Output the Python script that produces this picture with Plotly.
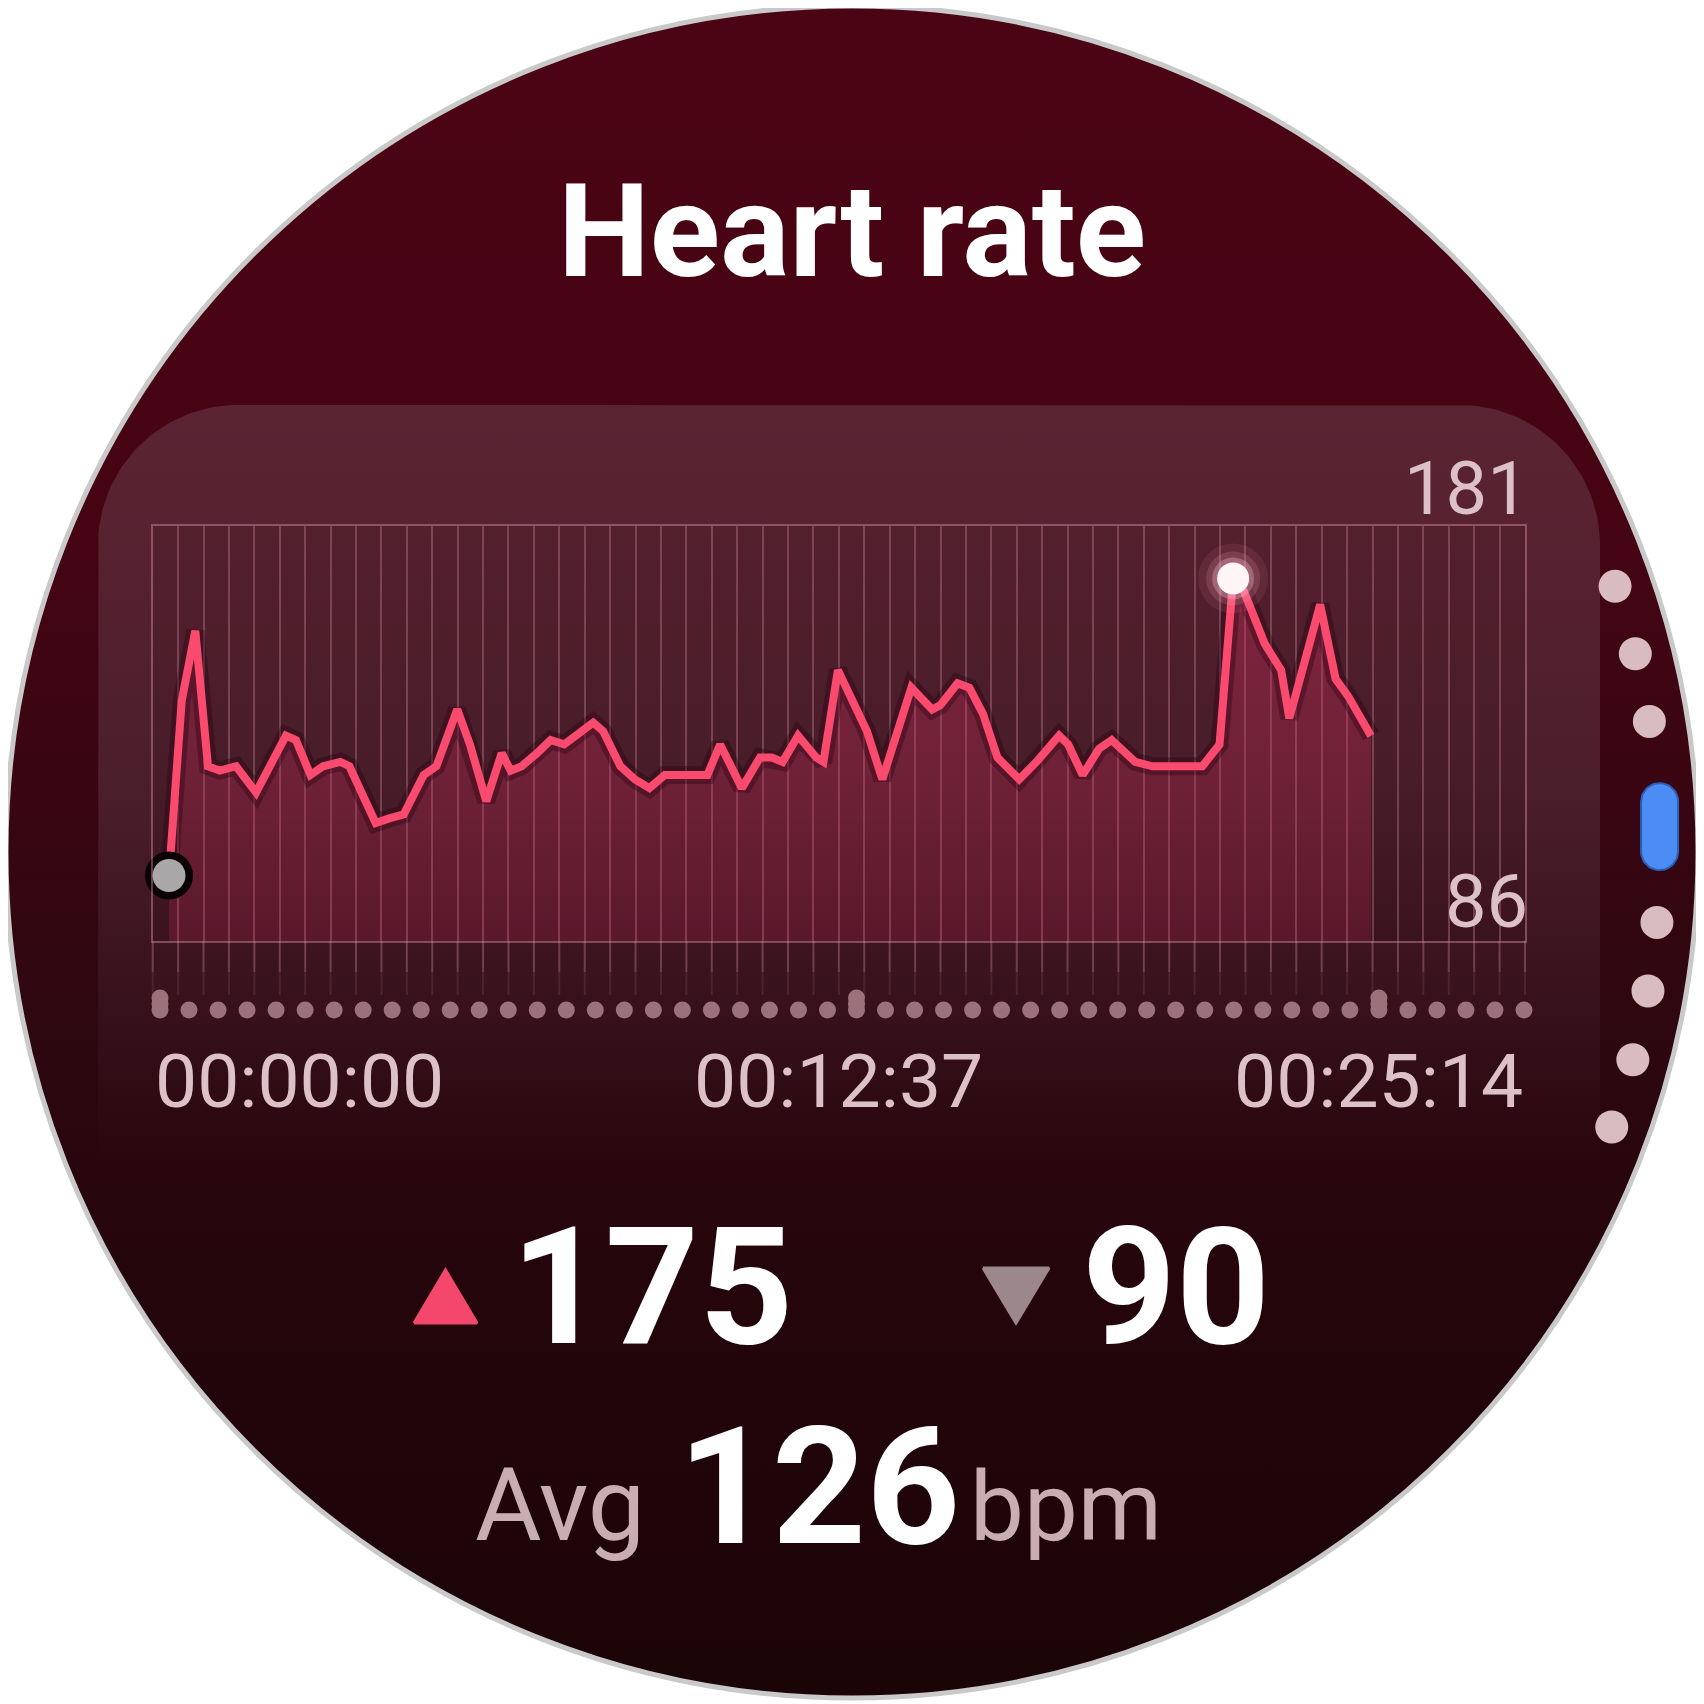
import numpy as np
import plotly.graph_objects as go

# ---------------- data ----------------
time_s = [18, 32, 47, 61, 74, 92, 114, 147, 158, 174,
          188, 207, 217, 246, 260, 277, 299, 313, 336, 350,
          368, 385, 395, 407, 424, 439, 454, 468, 486, 497,
          516, 532, 548, 565, 592, 612, 626, 650, 670, 683,
          695, 712, 732, 740, 756, 773, 788, 805, 821, 837,
          860, 869, 888, 901, 916, 932, 956, 975, 1000, 1010,
          1026, 1044, 1058, 1084, 1103, 1132, 1158, 1177, 1192, 1204,
          1227, 1245, 1254, 1288, 1305, 1319, 1344]
bpm = [101, 141, 157, 126, 125, 126, 120, 133, 132, 124,
       126, 127, 126, 113, 114, 115, 124, 126, 139, 131,
       118, 129, 125, 126, 129, 132, 131, 133, 136, 134,
       126, 123, 121, 124, 124, 124, 131, 121, 128, 128,
       127, 133, 128, 127, 148, 140, 134, 123, 134, 144,
       139, 140, 145, 144, 138, 128, 123, 127, 133, 131,
       124, 130, 132, 127, 126, 126, 126, 131, 169, 166,
       154, 148, 137, 163, 146, 142, 133]

duration_s = 1514
label_times = [0, 757, 1514]
time_labels = ["00:00:00", "00:12:37", "00:25:14"]
y_range = [86, 181]
grid_intervals = 54
title_text = "Heart rate"
max_bpm = 175
min_bpm = 90
avg_bpm = 126

# ---------------- geometry (window pixels) ----------------
OFF = 8                      # page body margin
FW = FH = 1696
CX, CY, R = 852, 852, 846
PX0, PX1 = 152.7, 1525.0      # plot area (window px)
PY0, PY1 = 526.0, 941.0

ROBOTO = "Roboto"

fig = go.Figure()

# watch face background
th = np.linspace(0, 2 * np.pi, 721)
fig.add_trace(go.Scatter(
    x=CX + R * np.cos(th), y=CY + R * np.sin(th), mode="lines",
    line=dict(width=0, color="rgba(0,0,0,0)"), fill="toself",
    fillgradient=dict(type="vertical", start=0, stop=1704,
                      colorscale=[[0, "#4b0414"], [0.3, "#460413"],
                                  [0.6, "#2e0711"], [0.8, "#22050b"],
                                  [1, "#1b0407"]]),
    hoverinfo="skip"))

# card with rounded top corners, fading downwards
def rounded_top(x0, x1, y0, y1, r):
    a1 = np.linspace(np.pi, 1.5 * np.pi, 40)
    a2 = np.linspace(1.5 * np.pi, 2 * np.pi, 40)
    xs = [x0] + list(x0 + r + r * np.cos(a1)) + list(x1 - r + r * np.cos(a2)) + [x1, x0]
    ys = [y1] + list(y0 + r + r * np.sin(a1)) + list(y0 + r + r * np.sin(a2)) + [y1, y1]
    return xs, ys

cx_, cy_ = rounded_top(98, 1600, 405, 1160, 140)
fig.add_trace(go.Scatter(
    x=cx_, y=cy_, mode="lines", line=dict(width=0, color="rgba(0,0,0,0)"),
    fill="toself",
    fillgradient=dict(type="vertical", start=405, stop=1160,
                      colorscale=[[0, "rgba(140,118,135,0.28)"],
                                  [0.5, "rgba(140,118,135,0.22)"],
                                  [1, "rgba(140,118,135,0)"]]),
    hoverinfo="skip"))

# fading extension of vertical grid lines below the plot
step = (PX1 - PX0) / grid_intervals
for (ya, yb, alpha) in [(PY1, 972, 0.22), (PY1, 995, 0.12)]:
    gx, gy = [], []
    for k in range(grid_intervals + 1):
        xk = PX0 + k * step
        gx += [xk, xk, None]
        gy += [ya, yb, None]
    fig.add_trace(go.Scatter(x=gx, y=gy, mode="lines",
                             line=dict(color=f"rgba(230,160,180,{alpha})", width=2),
                             hoverinfo="skip"))

# scrubber dots under the chart
n_dots = 48
dx = (1524 - 160) / (n_dots - 1)
dots_x = [160 + i * dx for i in range(n_dots)]
fig.add_trace(go.Scatter(x=dots_x, y=[1010] * n_dots, mode="markers",
                         marker=dict(size=17, color="#9d717c", line=dict(width=0)),
                         hoverinfo="skip"))
tall_idx = [0, 24, 42]
fig.add_trace(go.Scatter(x=[dots_x[i] for i in tall_idx] * 2,
                         y=[998] * 3 + [1004] * 3, mode="markers",
                         marker=dict(size=17, color="#9d717c", line=dict(width=0)),
                         hoverinfo="skip"))

# page indicator on the right edge
ang = np.radians([-19.2, -14.2, -9.3, 5.0, 9.9, 14.9, 19.9])
RI = 808
fig.add_trace(go.Scatter(x=CX + RI * np.cos(ang), y=CY + RI * np.sin(ang), mode="markers",
                         marker=dict(size=33, color="#d8bcc0", line=dict(width=0)),
                         hoverinfo="skip"))

def stadium(cx, cy, w, h):
    r = w / 2
    a_top = np.linspace(np.pi, 2 * np.pi, 30)
    a_bot = np.linspace(0, np.pi, 30)
    xs = list(cx + r * np.cos(a_top)) + list(cx + r * np.cos(a_bot))
    ys = list(cy - h / 2 + r + r * np.sin(a_top)) + list(cy + h / 2 - r + r * np.sin(a_bot))
    return xs + [xs[0]], ys + [ys[0]]

pa = np.radians(-1.8)
sx, sy = stadium(CX + RI * np.cos(pa), CY + RI * np.sin(pa), 37, 87)
fig.add_trace(go.Scatter(x=sx, y=sy, mode="lines", fill="toself", fillcolor="#4b8df5",
                         line=dict(width=2, color="#2c5fb8"), hoverinfo="skip"))

# max / min triangles
def triangle(cx, base_y, w, h, up=True):
    if up:
        return [cx - w / 2, cx + w / 2, cx, cx - w / 2], [base_y, base_y, base_y - h, base_y]
    return [cx - w / 2, cx + w / 2, cx, cx - w / 2], [base_y, base_y, base_y + h, base_y]

tx, ty = triangle(445.5, 1323, 63, 53, up=True)
fig.add_trace(go.Scatter(x=tx, y=ty, mode="lines", fill="toself", fillcolor="#f3486b",
                         line=dict(width=3, color="#f3486b"), hoverinfo="skip"))
tx, ty = triangle(1016, 1268, 66, 55, up=False)
fig.add_trace(go.Scatter(x=tx, y=ty, mode="lines", fill="toself", fillcolor="#9c888c",
                         line=dict(width=3, color="#9c888c"), hoverinfo="skip"))

# ---------------- chart (subplot 2) ----------------
fig.add_trace(go.Scatter(x=[0, duration_s, duration_s, 0, 0],
                         y=[y_range[0], y_range[0], y_range[1], y_range[1], y_range[0]],
                         xaxis="x2", yaxis="y2", mode="lines", fill="toself",
                         fillcolor="rgba(20,0,8,0.06)", line=dict(width=0),
                         hoverinfo="skip"))

# area under the curve
fig.add_trace(go.Scatter(x=time_s, y=bpm, xaxis="x2", yaxis="y2", mode="lines",
                         line=dict(width=0, color="rgba(0,0,0,0)"), fill="tozeroy",
                         fillgradient=dict(type="vertical", start=y_range[0], stop=y_range[1],
                                           colorscale=[[0, "rgba(215,45,95,0.20)"],
                                                       [0.6, "rgba(215,45,95,0.30)"],
                                                       [1, "rgba(215,45,95,0.38)"]]),
                         hoverinfo="skip"))
# shadow + line
fig.add_trace(go.Scatter(x=time_s, y=bpm, xaxis="x2", yaxis="y2", mode="lines",
                         line=dict(width=18, color="rgba(40,0,14,0.35)"), hoverinfo="skip"))
fig.add_trace(go.Scatter(x=time_s, y=bpm, xaxis="x2", yaxis="y2", mode="lines",
                         line=dict(width=8, color="#fa4a6e"), hoverinfo="skip"))

# start point
fig.add_trace(go.Scatter(x=[time_s[0]], y=[bpm[0]], xaxis="x2", yaxis="y2", mode="markers",
                         marker=dict(size=48, color="#0a0003", line=dict(width=0)),
                         hoverinfo="skip", cliponaxis=False))
fig.add_trace(go.Scatter(x=[time_s[0]], y=[bpm[0]], xaxis="x2", yaxis="y2", mode="markers",
                         marker=dict(size=33, color="#a9a7a8", line=dict(width=0)),
                         hoverinfo="skip", cliponaxis=False))

# peak point with glow
imax = int(np.argmax(bpm))
for s, c in [(70, "rgba(255,150,180,0.10)"), (54, "rgba(255,170,195,0.16)"),
             (42, "rgba(255,200,215,0.30)"), (32, "#fff4f6")]:
    fig.add_trace(go.Scatter(x=[time_s[imax]], y=[bpm[imax]], xaxis="x2", yaxis="y2",
                             mode="markers", marker=dict(size=s, color=c, line=dict(width=0)),
                             hoverinfo="skip", cliponaxis=False))

# ---------------- texts ----------------
LAB = "#dcc2c8"
ann = []
ann.append(dict(x=852, y=231, xref="x", yref="y", text=title_text, showarrow=False,
                xanchor="center", yanchor="middle",
                font=dict(family=ROBOTO, size=130, color="#ffffff", weight=700)))
# y range labels
ann.append(dict(x=1, y=y_range[1], xref="x2 domain", yref="y2", text=str(y_range[1]),
                showarrow=False, xanchor="right", yanchor="middle", xshift=6, yshift=38,
                font=dict(family=ROBOTO, size=74, color=LAB)))
ann.append(dict(x=1, y=y_range[0], xref="x2 domain", yref="y2", text=str(y_range[0]),
                showarrow=False, xanchor="right", yanchor="middle", xshift=5, yshift=40,
                font=dict(family=ROBOTO, size=74, color=LAB)))
# time labels
for t, lab, anc in zip(label_times, time_labels, ["left", "center", "right"]):
    ann.append(dict(x=t, y=1081, xref="x2", yref="y", text=lab, showarrow=False,
                    xanchor=anc, yanchor="middle",
                    font=dict(family=ROBOTO, size=75, color=LAB)))
# stats
BIG = 164
ann.append(dict(x=652, y=1287, xref="x", yref="y", text=str(max_bpm), showarrow=False,
                xanchor="center", yanchor="middle",
                font=dict(family=ROBOTO, size=BIG, color="#ffffff", weight=700)))
ann.append(dict(x=1176, y=1287, xref="x", yref="y", text=str(min_bpm), showarrow=False,
                xanchor="center", yanchor="middle",
                font=dict(family=ROBOTO, size=BIG, color="#ffffff", weight=700)))
ann.append(dict(x=819, y=1487, xref="x", yref="y", text=str(avg_bpm), showarrow=False,
                xanchor="center", yanchor="middle",
                font=dict(family=ROBOTO, size=BIG, color="#ffffff", weight=700)))
ann.append(dict(x=560, y=1505, xref="x", yref="y", text="Avg", showarrow=False,
                xanchor="center", yanchor="middle",
                font=dict(family=ROBOTO, size=102, color="#c9adb3")))
ann.append(dict(x=1066, y=1507, xref="x", yref="y", text="bpm", showarrow=False,
                xanchor="center", yanchor="middle",
                font=dict(family=ROBOTO, size=96, color="#c9adb3")))

GRID = "rgba(230,160,180,0.32)"
fig.update_layout(
    width=FW, height=FH, margin=dict(l=0, r=0, t=0, b=0, pad=0),
    paper_bgcolor="#ffffff", plot_bgcolor="rgba(0,0,0,0)",
    showlegend=False, hovermode=False,
    xaxis=dict(domain=[0, 1], range=[OFF, OFF + FW], visible=False, fixedrange=True),
    yaxis=dict(domain=[0, 1], range=[OFF + FH, OFF], visible=False, fixedrange=True),
    xaxis2=dict(domain=[(PX0 - OFF) / FW, (PX1 - OFF) / FW], range=[0, duration_s], anchor="y2",
                showgrid=True, gridcolor=GRID, gridwidth=2, tick0=0,
                dtick=duration_s / grid_intervals, showticklabels=False, ticks="",
                zeroline=False, showline=True, mirror=True,
                linecolor="rgba(230,160,180,0.40)", linewidth=2, fixedrange=True),
    yaxis2=dict(domain=[1 - (PY1 - OFF) / FH, 1 - (PY0 - OFF) / FH], range=y_range, anchor="x2",
                showgrid=False, zeroline=False, showticklabels=False, ticks="",
                showline=True, mirror=True, linecolor="rgba(230,160,180,0.40)",
                linewidth=2, fixedrange=True),
    annotations=ann,
    shapes=[dict(type="circle", xref="x", yref="y", x0=CX - R, x1=CX + R,
                 y0=CY - R, y1=CY + R, line=dict(color="#c9c9c9", width=5),
                 layer="above")],
)

fig.write_html("out.html")
